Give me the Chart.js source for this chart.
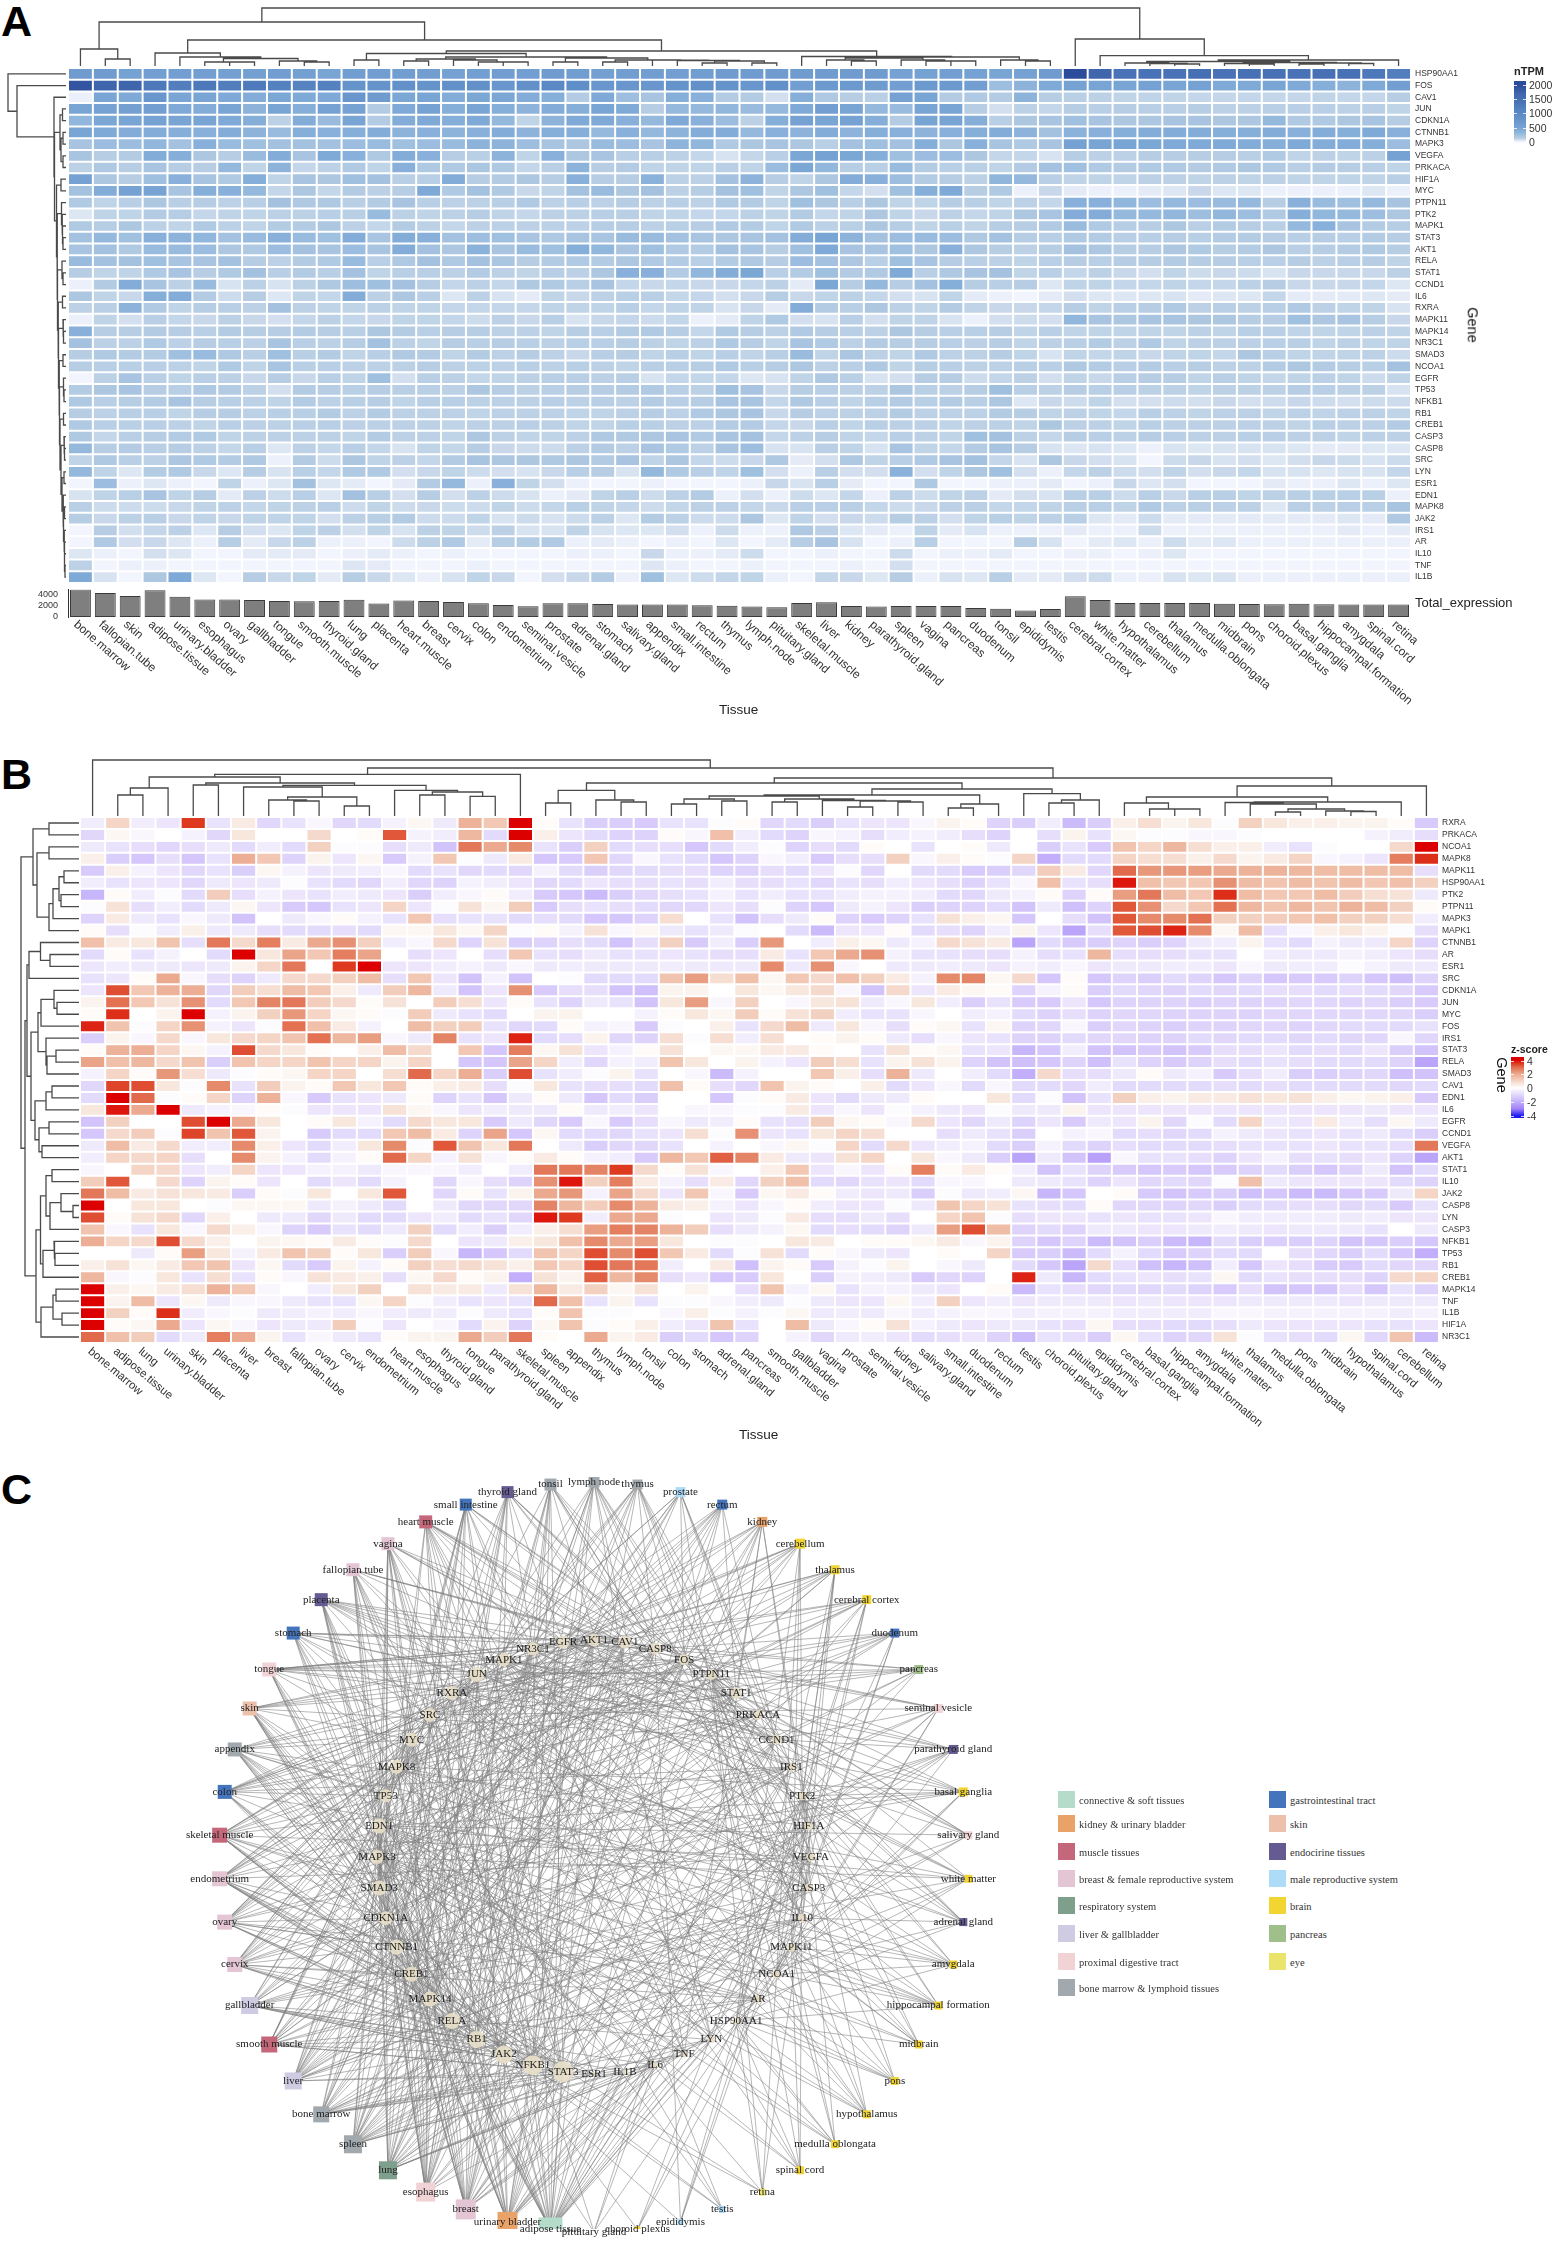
<!DOCTYPE html>
<html>
<head>
<meta charset="utf-8">
<title>Tissue expression</title>
<script src="https://cdn.jsdelivr.net/npm/chart.js@4"></script>
<style>
  body { margin: 0; background: #fff; }
  #page { position: relative; width: 1554px; height: 2246px; overflow: hidden; font-family: "Liberation Sans", Arial, sans-serif; }
  #page canvas { position: absolute; }
  .txt { position: absolute; white-space: nowrap; color: #222; }
  .letter { font-weight: bold; font-size: 43px; color: #000; line-height: 1; }
  .serif { font-family: "Liberation Serif", "Times New Roman", serif; font-size: 10.5px; color: #333; line-height: 1; }
</style>
</head>
<body>
<div id="page"></div>
<script>
// panel A
const tissuesA = ['bone.marrow','fallopian.tube','skin','adipose.tissue','urinary.bladder','esophagus','ovary','gallbladder','tongue','smooth.muscle','thyroid.gland','lung','placenta','heart.muscle','breast','cervix','colon','endometrium','seminal.vesicle','prostate','adrenal.gland','stomach','salivary.gland','appendix','small.intestine','rectum','thymus','lymph.node','pituitary.gland','skeletal.muscle','liver','kidney','parathyroid.gland','spleen','vagina','pancreas','duodenum','tonsil','epididymis','testis','cerebral.cortex','white.matter','hypothalamus','cerebellum','thalamus','medulla.oblongata','midbrain','pons','choroid.plexus','basal.ganglia','hippocampal.formation','amygdala','spinal.cord','retina'];
const genesA = ['HSP90AA1','FOS','CAV1','JUN','CDKN1A','CTNNB1','MAPK3','VEGFA','PRKACA','HIF1A','MYC','PTPN11','PTK2','MAPK1','STAT3','AKT1','RELA','STAT1','CCND1','IL6','RXRA','MAPK11','MAPK14','NR3C1','SMAD3','NCOA1','EGFR','TP53','NFKB1','RB1','CREB1','CASP3','CASP8','SRC','LYN','ESR1','EDN1','MAPK8','JAK2','IRS1','AR','IL10','TNF','IL1B'];
// nTPM / 10, one row per gene
const expressionA = [
[65,65,55,60,60,60,58,58,62,58,50,62,62,62,62,55,60,62,60,65,62,58,62,62,60,62,65,65,65,65,65,65,65,55,55,60,55,50,55,65,200,170,140,140,140,150,140,145,145,140,145,145,130,120],
[190,170,170,130,120,130,120,125,115,110,115,80,80,85,80,85,85,75,85,100,90,75,75,75,80,85,80,75,85,60,70,70,65,60,70,70,60,25,35,45,55,50,50,55,50,55,45,45,50,45,40,35,45,60],
[3,50,45,75,50,50,45,42,48,45,45,75,65,48,50,42,48,48,42,40,15,45,25,20,40,38,15,15,7,40,17,14,13,55,50,15,16,15,35,14,13,12,11,11,11,10,10,10,10,10,11,10,10,14],
[50,55,58,60,45,42,50,35,50,40,55,55,15,45,55,40,50,40,35,42,40,50,45,14,30,30,32,28,30,45,60,50,30,28,50,50,14,7,12,10,14,13,14,13,13,14,12,12,13,13,13,12,13,11],
[32,48,50,55,50,50,45,40,12,42,28,50,15,42,45,40,45,30,11,35,45,45,38,30,45,38,26,12,40,55,50,55,40,15,50,50,40,13,18,20,24,20,18,18,20,20,18,18,30,16,16,18,20,14],
[50,45,42,42,40,38,42,35,28,40,38,40,42,35,38,35,38,42,35,40,40,30,38,30,35,42,42,30,38,35,42,35,40,38,35,38,40,42,35,22,36,38,40,42,42,42,40,40,42,38,42,40,45,38],
[20,26,26,32,22,38,28,24,22,22,22,26,28,24,26,28,35,35,25,20,18,28,26,20,34,32,16,18,20,18,13,22,24,22,40,18,38,20,16,20,55,50,50,48,45,45,45,42,40,45,42,42,40,26],
[20,14,15,42,40,18,14,28,42,20,45,38,17,42,38,14,13,35,11,38,18,20,13,13,12,10,6,10,13,48,55,48,40,24,26,26,18,10,10,6,14,12,12,14,14,14,14,13,16,11,12,11,12,55],
[12,17,14,20,14,14,30,11,35,10,12,16,11,38,17,16,19,17,10,13,35,14,15,11,11,11,13,11,27,48,32,14,13,28,15,13,13,11,15,22,24,16,15,16,16,15,16,18,16,13,15,14,13,11],
[55,18,14,24,38,20,16,40,11,20,18,24,22,13,13,42,14,15,18,14,38,14,14,36,12,12,22,35,14,11,18,42,38,25,15,14,12,33,30,13,11,11,11,12,12,11,12,11,12,11,11,11,11,13],
[22,42,55,52,20,40,38,30,10,18,10,15,12,14,45,16,22,16,9,11,22,28,18,22,12,14,22,24,11,18,24,10,7,24,40,45,14,16,3,9,4,3,3,4,5,9,5,5,3,3,3,3,5,3],
[16,11,13,18,13,14,12,13,22,17,17,13,15,20,13,12,12,13,16,12,13,12,14,12,13,12,16,15,11,24,18,13,18,11,11,14,13,11,12,10,38,38,32,26,30,26,28,30,14,38,28,24,30,20],
[5,11,11,15,14,10,11,11,12,12,13,13,28,12,11,12,14,11,10,12,12,13,13,11,11,10,10,12,11,15,10,11,18,11,9,12,10,11,18,20,42,42,30,30,32,25,32,25,16,40,32,30,25,18],
[16,14,18,12,11,16,12,11,15,15,18,12,10,15,12,10,12,12,12,12,12,14,14,12,13,14,16,15,11,16,12,13,18,14,11,13,11,14,14,16,28,16,14,14,18,13,15,14,13,30,38,20,15,14],
[22,30,24,38,35,32,22,28,38,28,24,42,20,42,38,22,25,24,20,17,20,20,28,28,22,20,18,20,22,42,50,35,22,26,28,26,17,22,14,13,16,15,13,13,14,13,15,15,14,13,14,13,15,14],
[20,22,16,28,28,26,18,17,26,22,20,26,20,42,22,18,36,20,28,24,40,32,20,24,16,15,22,20,14,24,45,20,20,24,18,38,18,14,12,14,22,18,14,14,18,16,14,15,18,13,14,15,17,14],
[28,22,22,24,20,20,22,14,12,15,16,28,13,17,22,17,22,19,14,15,16,15,18,16,15,13,15,17,14,26,22,18,13,24,20,14,13,12,11,13,14,13,14,14,15,14,14,13,13,14,12,13,14,11],
[14,11,11,16,20,14,16,22,13,15,13,22,11,13,13,12,15,12,11,13,12,18,38,38,15,32,42,48,13,15,24,15,16,45,13,17,20,22,11,13,10,12,9,7,11,8,9,8,6,9,9,9,9,12],
[3,15,42,20,12,28,6,12,6,12,17,25,24,22,14,10,12,10,17,16,13,20,10,9,10,9,9,10,12,4,48,14,30,14,22,40,14,13,14,5,11,11,10,10,11,10,10,12,14,9,9,9,10,5],
[18,11,9,40,42,15,8,14,5,11,10,42,12,18,13,5,12,6,4,11,9,12,13,13,10,10,7,9,14,9,11,12,10,7,6,11,4,3,2,4,7,5,5,5,6,4,5,5,10,4,4,4,5,4],
[12,13,35,16,11,14,13,12,22,12,11,11,12,11,11,10,10,10,10,11,11,11,13,10,11,11,6,9,4,42,15,13,18,12,11,15,11,9,9,10,14,11,13,14,16,12,13,12,13,16,12,11,11,6],
[3,11,7,13,10,9,12,9,7,10,12,10,9,11,11,10,8,12,9,13,6,9,10,8,10,3,4,11,16,7,6,13,7,11,11,6,3,7,8,7,32,20,18,20,20,18,18,14,14,24,18,20,14,9],
[38,14,14,15,14,13,15,14,14,15,14,13,18,15,13,14,14,12,12,11,14,13,15,16,14,10,16,14,12,16,14,13,12,18,14,13,13,14,11,13,11,11,11,11,11,12,11,13,13,11,11,11,12,11],
[22,12,12,16,12,14,13,12,20,13,12,14,22,12,11,14,13,14,13,12,13,13,14,12,11,12,17,14,11,20,16,12,15,14,14,13,12,14,11,12,13,15,12,16,11,12,12,12,13,13,11,12,11,11],
[14,16,15,15,24,28,17,13,24,13,15,11,13,16,15,11,15,12,14,12,9,13,14,11,13,11,13,11,13,28,11,19,12,11,16,12,12,14,11,6,11,10,11,9,11,11,10,18,13,11,11,11,12,8],
[14,13,13,13,12,11,16,11,20,13,13,12,12,12,14,12,12,12,13,12,13,12,11,13,13,14,16,13,14,18,12,13,17,11,14,13,12,12,13,13,17,15,13,15,13,14,12,12,15,18,15,14,13,22],
[2,12,20,13,11,13,12,9,14,9,13,11,24,7,13,12,10,11,12,13,13,12,13,6,10,10,10,5,6,11,17,13,6,7,14,14,8,10,12,7,11,9,13,14,14,11,13,11,10,11,12,11,8,11],
[15,18,20,14,13,17,15,12,7,15,14,13,14,13,13,12,18,14,12,13,14,14,15,16,13,12,24,20,9,14,13,12,12,18,13,12,14,24,13,12,14,13,13,12,12,11,12,12,12,14,13,12,12,6],
[17,13,14,15,20,14,13,12,11,15,12,13,14,11,13,13,12,12,12,13,12,13,12,15,13,14,20,20,10,17,13,11,13,15,13,15,13,18,5,9,8,11,7,7,8,7,9,7,8,9,8,7,8,8],
[14,12,13,13,11,14,14,12,13,13,15,12,15,12,12,12,11,12,12,12,11,11,12,14,12,16,18,20,9,14,12,12,12,15,12,12,12,15,14,11,12,11,10,13,12,11,12,12,11,12,11,12,12,11],
[16,13,13,13,12,11,13,12,12,13,13,12,12,12,12,11,12,12,13,12,11,11,13,13,12,12,15,15,10,9,13,11,13,12,12,11,12,12,11,18,12,12,11,13,12,12,12,12,12,11,13,12,12,15],
[17,10,13,14,15,16,11,12,12,12,12,11,15,12,12,11,18,12,11,11,12,17,16,18,20,16,20,22,10,12,14,11,10,13,12,11,24,22,12,10,14,13,12,14,13,12,12,13,13,12,12,11,12,12],
[30,14,15,13,14,12,10,13,5,12,10,13,10,6,11,10,14,9,8,8,12,15,12,20,16,12,20,25,6,6,13,11,6,20,11,10,15,20,14,6,5,6,5,3,6,5,6,6,6,5,4,4,5,5],
[11,17,13,12,18,16,15,17,3,15,8,18,11,12,10,15,20,18,18,17,18,15,20,11,18,10,8,9,17,4,7,17,11,13,16,20,22,10,6,18,9,7,6,2,8,9,6,7,5,7,9,8,6,8],
[30,11,5,15,16,9,5,14,6,13,10,16,16,7,9,11,8,7,6,9,13,14,6,30,16,13,11,24,7,3,13,7,7,36,7,11,18,24,7,3,10,12,8,7,11,7,9,10,6,6,5,6,6,10],
[2,26,3,5,3,2,11,3,5,22,5,4,2,4,15,30,3,38,11,7,3,2,2,3,2,2,2,3,9,6,13,4,2,2,17,2,2,3,3,4,2,3,9,5,7,2,2,2,4,3,3,5,3,5],
[6,11,13,20,11,14,4,12,8,13,5,22,13,7,14,7,12,8,6,3,4,11,13,8,12,15,3,7,3,8,5,10,3,12,8,11,12,4,7,6,13,13,8,13,9,13,13,11,12,13,13,13,13,3],
[13,8,8,8,9,11,12,10,11,12,13,8,11,8,9,8,8,11,8,10,13,11,10,8,10,12,12,10,9,13,13,13,10,8,9,12,13,10,10,11,13,13,11,16,12,13,12,12,5,13,12,13,13,20],
[14,9,12,13,9,11,9,11,11,11,7,12,13,15,8,8,11,6,8,6,8,12,5,15,12,8,8,18,5,11,7,9,8,14,12,7,11,13,11,12,13,5,4,8,4,4,4,4,4,4,4,5,4,17],
[2,14,7,10,12,5,14,7,5,11,12,7,11,6,12,11,8,12,6,6,11,6,5,5,7,3,8,3,3,17,12,5,4,3,11,4,6,3,3,3,4,3,3,8,3,3,3,3,3,3,3,4,3,4],
[2,16,7,9,5,3,14,4,9,12,3,3,2,8,12,16,4,14,15,16,3,4,3,2,3,2,5,2,4,14,20,6,2,3,13,2,2,2,14,6,2,4,5,3,8,4,5,3,3,3,3,3,3,3],
[5,3,2,7,5,2,2,4,4,4,2,3,4,3,2,3,2,2,2,2,3,3,2,9,3,3,4,8,2,2,3,2,2,8,2,3,3,4,2,2,3,3,2,3,5,2,2,2,2,2,2,2,2,2],
[12,2,3,3,2,2,2,2,2,2,2,5,4,2,2,2,3,2,2,2,2,2,2,5,3,2,2,3,2,2,2,3,2,7,2,2,2,2,2,2,2,2,2,2,2,2,2,2,2,2,2,2,2,2],
[45,6,2,18,45,5,2,14,9,11,4,14,9,5,3,6,11,9,2,7,9,15,3,24,5,8,10,11,3,2,10,9,5,14,3,6,5,13,4,4,7,8,3,3,6,5,6,3,3,3,3,3,3,3]
];
const totalExpression = [4900,4250,3750,4750,3600,3100,3100,3000,2850,2800,2850,3050,2400,2950,2850,2650,2450,2150,1900,2450,2450,2300,2200,2200,2200,2100,2000,1850,1750,2500,2600,1950,1850,1950,1950,1950,1600,1450,1150,1400,3700,3000,2500,2500,2500,2500,2350,2300,2250,2350,2250,2200,2200,2200];
const colTreeA = [58,[44,[17,0,[7,0,0]],[26,[13,0,[9,0,[7.5,[4,0,[4,0,0]],[5,0,[4,0,0]]]]],[15,[12.5,[6,0,0],[9,[7,[5,0,0],[6,0,[4,0,[4,0,0]]]],[8,[4,0,0],[6,[4,0,0],[5.8,0,[5.5,0,[5,[3,0,0],[3,0,0]]]]]]]],[9.5,0,[9,[8,[6,0,[5,0,0]],[6,0,[5,0,[5,0,0]]]],[6,0,[5,0,0]]]]]]],[27,0,[10.3,0,[6,[4.5,[3,0,[2.5,0,[2,0,0]]],[3.5,[2.5,0,[2,0,0]],[3,[2,0,0],[2.5,0,0]]]],0]]]];
const rowTailA1 = [3,0,[2.5,[1.5,0,0],[2,0,[1.5,0,[1.5,0,[1,0,0]]]]]];
const rowTailA2 = [5,[2,0,[1.5,0,0]],[4,[2,0,0],rowTailA1]];
const rowTailA3 = [7.5,[3,0,[2.5,0,0]],[7,[3,0,0],[6.5,[2.5,0,[2,0,0]],[6,[2.5,0,0],rowTailA2]]]];
const rowTailA4 = [9.5,[5,0,0],[9,[4.5,0,[4,0,[3.5,0,[3,0,0]]]],[8.5,[4,0,[3,0,0]],[8,[3.5,0,0],rowTailA3]]]];
const rowTreeA = [58,0,[49,0,[12,0,[11.5,[6,[3.5,0,0],[5,[3,0,0],[3,0,0]]],rowTailA4]]]];

// panel B
const tissuesB = ['bone.marrow','adipose.tissue','lung','urinary.bladder','skin','placenta','liver','breast','fallopian.tube','ovary','cervix','endometrium','heart.muscle','esophagus','thyroid.gland','tongue','parathyroid.gland','skeletal.muscle','spleen','appendix','thymus','lymph.node','tonsil','colon','stomach','adrenal.gland','pancreas','smooth.muscle','gallbladder','vagina','prostate','seminal.vesicle','kidney','salivary.gland','small.intestine','duodenum','rectum','testis','choroid.plexus','pituitary.gland','epididymis','cerebral.cortex','basal.ganglia','hippocampal.formation','amygdala','white.matter','thalamus','medulla.oblongata','pons','midbrain','hypothalamus','spinal.cord','cerebellum','retina'];
const genesB = ['RXRA','PRKACA','NCOA1','MAPK8','MAPK11','HSP90AA1','PTK2','PTPN11','MAPK3','MAPK1','CTNNB1','AR','ESR1','SRC','CDKN1A','JUN','MYC','FOS','IRS1','STAT3','RELA','SMAD3','CAV1','EDN1','IL6','EGFR','CCND1','VEGFA','AKT1','STAT1','IL10','JAK2','CASP8','LYN','CASP3','NFKB1','TP53','RB1','CREB1','MAPK14','TNF','IL1B','HIF1A','NR3C1'];
// z-score x 10, one row per gene
const zscoreB = [
[-4,10,-4,-6,35,-7,5,-10,-7,-2,-10,-9,-3,2,-5,18,13,40,1,-7,-12,-12,-13,-7,-7,-1,1,-10,-9,-12,-7,-6,-6,-2,3,1,-11,-12,-4,-17,-12,4,8,3,6,-1,11,6,4,4,3,3,1,-13],
[-10,2,-2,0,-3,-10,6,0,0,9,0,1,32,-3,-4,17,-9,40,4,-6,-9,-11,-11,1,-2,15,-4,-9,-11,-2,-3,-8,-4,-3,-4,-8,-11,0,-8,3,-7,2,-1,-1,-2,-2,-1,0,0,0,0,-3,-4,-8],
[-5,-7,-8,-10,-8,-5,-9,-4,-9,11,-1,-1,-8,-5,-15,28,20,25,-7,-12,11,-9,-8,-8,-14,-9,-4,-1,-11,-8,-9,1,0,-7,0,1,-5,0,-12,-7,-13,14,10,17,8,4,4,-4,-7,-1,0,0,9,40],
[4,-12,-14,-8,-14,-7,19,13,-11,3,-6,2,-13,-3,13,-1,-5,5,-14,-13,13,-10,-2,-7,-9,-14,-11,-2,-4,-13,-8,-8,11,-2,4,1,-1,10,-20,-9,-9,10,8,8,4,9,3,5,10,-2,-3,-6,27,36],
[-13,4,-3,-6,-10,-7,-12,2,-3,-6,-5,-4,-2,-9,-7,-10,-9,-10,-3,-9,-12,-10,-9,-8,-8,-11,-11,-8,-9,-6,-1,-10,0,-9,-9,-13,-12,-10,12,5,-10,30,23,23,22,20,18,18,17,16,16,16,16,-8],
[-4,-7,-6,-6,-10,-5,-6,-5,-1,-7,-9,-10,-4,-10,-11,-3,-4,-6,-10,-9,-6,-8,-8,-7,-8,-4,-8,-8,-7,-10,-7,-8,-4,-6,-8,-11,-7,-2,15,-7,-8,38,15,13,13,24,16,14,16,14,16,13,15,11],
[-18,1,-4,-1,-9,12,-8,-3,-6,-7,-4,-5,-6,-12,-4,-2,1,-4,-13,-14,-17,-12,-10,-8,-7,-3,-7,-4,-7,-7,-4,-3,-3,-4,-9,-10,-5,-3,1,-11,1,22,28,16,13,36,16,13,13,16,12,8,7,-5],
[-1,7,-8,-4,-9,-5,2,-6,-13,-14,-7,-6,10,-6,-1,7,2,12,-13,-8,-7,-8,-9,-10,-10,-6,-8,-1,-11,-14,-5,-3,-6,-12,-11,-11,-9,-15,-5,-16,-11,32,24,9,13,29,17,14,17,14,18,16,11,1],
[-11,5,-5,-7,-2,-5,-15,0,-5,-2,1,-3,-7,13,-8,-7,-7,-9,-8,-9,-14,-14,-11,8,0,-7,-15,-8,-5,1,-11,-13,-11,-7,7,4,2,-14,0,-8,-15,32,25,25,29,11,11,12,13,15,11,11,8,-4],
[1,-8,-1,-4,4,-5,-5,-8,-9,-9,-8,-9,2,2,6,2,10,-1,1,-3,7,-2,2,-5,-7,-5,-1,0,-9,-17,-6,-6,1,-9,-8,-11,-4,3,-6,-22,-8,32,33,37,25,2,16,-8,-2,4,6,3,-1,-8],
[15,5,6,14,-8,28,9,27,5,20,24,11,-4,-2,9,-11,7,-12,-11,-8,-9,-15,-8,11,-13,-4,-12,23,0,-4,4,2,-5,-3,9,7,5,-22,-9,-13,-12,-11,-12,-11,-5,-4,3,-7,-9,-3,-5,-5,10,-11],
[-9,1,-7,-3,0,-9,40,6,21,13,27,21,0,-8,-6,0,-8,13,-7,-8,-5,-7,-7,-6,-7,-8,-8,5,-7,13,20,24,-3,-7,-7,-8,-8,-3,-8,-7,17,-8,-8,-8,-7,-7,0,-4,-5,-5,-3,-4,-6,-8],
[-6,-4,-5,-5,-6,-5,3,10,28,0,35,40,-6,-6,-4,-3,-5,-2,-5,-4,-5,-5,-5,-4,-5,-5,-5,25,-5,24,-2,0,-5,-5,-4,-5,-6,-3,-4,-2,-6,-5,-5,-4,-4,-6,-2,-5,-4,-4,-1,-3,-5,-5],
[-7,-6,1,20,-2,-8,-11,-5,9,9,11,16,-8,13,-6,-15,-3,-15,0,-1,-9,-9,-9,14,22,8,15,2,13,9,15,11,5,-3,25,26,2,9,-14,1,-14,-11,-12,-9,-11,-14,-11,-14,-13,-13,-11,-14,-16,-11],
[-6,33,13,18,19,-10,12,8,16,13,4,-5,12,17,-5,-15,-6,24,-13,-8,-8,-15,-16,3,3,0,6,2,6,9,-2,-15,9,-6,5,2,1,-11,-3,1,-12,-9,-10,-11,-9,-10,-9,-8,-8,-9,-8,-9,-10,-13],
[3,29,13,7,24,-9,13,26,28,12,9,1,7,0,12,8,-6,1,-7,-11,-5,-7,-15,6,22,-2,11,0,-2,6,7,-5,-2,6,-4,-12,-7,-13,-13,-6,-14,-11,-11,-11,-12,-11,-11,-11,-10,-10,-11,-10,-12,-13],
[1,36,0,3,40,-3,3,11,23,10,2,1,-1,12,-5,-7,-9,0,3,3,0,0,-3,1,6,2,12,1,7,11,-4,-7,-7,-2,0,-4,-3,-9,-11,-8,-11,-10,-10,-11,-11,-11,-11,-10,-10,-10,-10,-10,-10,-12],
[37,14,-1,10,24,-3,-6,-1,29,15,5,-3,0,16,11,12,-7,-10,-9,1,-3,-2,-13,-1,0,4,-7,9,16,-5,6,-2,-8,1,2,-7,2,-11,-10,-2,-12,-10,-11,-12,-11,-11,-10,-10,-11,-10,-9,-9,-9,-7],
[-12,3,-2,9,-2,6,9,10,14,29,17,22,-2,-5,26,-7,-6,37,-9,-8,3,-10,-11,8,-1,8,-4,8,0,1,3,1,-5,-8,-2,-6,-7,-11,-11,-9,-10,-10,-11,-11,-9,-10,-9,-9,-10,-9,-10,-10,-2,-10],
[1,18,19,10,2,-3,33,9,6,1,0,4,16,9,0,13,-14,27,2,7,-6,-3,1,7,0,2,2,5,5,1,0,-7,7,1,2,-7,-6,-18,-14,-4,-15,-15,-13,-15,-13,-8,-8,-6,-9,-8,-9,-6,-12,-15],
[21,15,17,9,14,-12,14,10,10,14,10,10,3,10,0,-14,-14,21,10,-4,-10,-3,-4,14,6,0,3,-3,-6,12,8,-7,3,7,3,-11,-15,-16,-14,-11,-16,-7,-11,-13,-11,-8,-9,-7,-8,-9,-9,-9,-11,-22],
[-3,10,1,23,8,-5,-1,1,2,10,10,0,8,30,10,19,-12,33,-7,-4,-1,3,-7,0,-2,-17,-3,0,0,13,4,-8,18,-5,0,-4,-9,-20,9,-8,-8,-5,1,-5,-3,-13,-8,-4,-12,-12,-11,-10,-16,-15],
[-10,34,33,6,-1,25,-7,12,3,1,13,6,13,1,4,5,-8,-1,6,-7,-8,-8,-9,15,1,-8,-10,14,3,1,0,4,-9,-6,-2,-9,-2,-9,-9,-10,-4,-9,-9,-9,-9,-8,-9,-8,-9,-9,-9,-9,-10,-9],
[-9,40,30,-1,1,10,-11,18,-2,-13,-7,-6,-5,1,-11,-7,-14,-5,1,-5,-14,-9,-12,0,0,-14,-1,1,5,-6,-9,-5,-5,1,0,0,6,-9,-1,-15,-7,11,4,3,5,5,7,6,7,4,2,3,4,-13],
[6,38,20,40,-5,-3,-2,1,-1,-6,-6,-6,7,2,-2,-6,-4,-5,-5,1,-5,-4,-6,0,-2,-2,-1,-1,5,-6,-2,-6,-1,-3,-5,-6,-1,-5,-5,3,-6,-6,-6,-6,-6,-6,-6,-6,-6,-6,-6,-5,-6,-6],
[-15,11,0,0,33,40,20,6,0,1,6,-3,-9,9,6,6,-13,-5,-10,-13,-2,-13,-8,-2,-5,-4,1,-7,-8,12,2,1,-2,9,-6,-10,-5,-11,-6,-13,-5,-6,3,-10,-1,-9,10,-5,-6,5,-4,-8,2,-5],
[-14,9,12,-1,34,14,32,3,0,-13,-9,-9,13,16,5,-11,21,-14,2,-9,-9,-10,-7,-6,8,-1,24,-6,-7,6,10,8,0,0,-8,-5,-7,-12,0,-3,-2,-9,-8,-10,-9,-3,-5,-6,-7,-6,-7,-5,-9,-12],
[-5,16,5,9,-4,-4,25,4,-6,-9,-4,6,25,-1,32,14,6,28,0,-5,-12,-10,-10,-7,0,-3,0,-2,2,-1,10,-9,9,-6,-4,-3,-9,-12,-3,-9,-11,-8,-9,-9,-9,-8,-7,-7,-7,-6,-7,-7,-8,28],
[-4,10,9,10,-8,0,25,3,-3,-9,-3,1,30,10,-3,7,-2,1,5,1,-3,-4,-13,17,13,31,26,5,-5,-6,7,10,0,6,-2,-5,-12,-22,-5,-15,-23,-2,-7,-7,-8,-11,-6,-3,-8,-7,-8,-6,-11,-22],
[-2,0,10,9,-6,-4,10,-6,-6,-3,-3,-5,-2,-2,-2,-4,0,-4,28,28,26,35,9,1,7,-2,0,4,13,-6,-2,-6,1,27,1,5,1,-4,-15,-7,-11,-13,-14,-13,-14,-13,-11,-9,-12,-14,-11,-5,-15,-9],
[12,32,0,9,-11,3,1,-6,0,-9,-6,-9,-3,0,-10,-2,-8,-11,24,38,11,27,5,-3,-8,5,-10,11,15,-9,-10,-7,-6,-9,-2,-2,0,-5,-5,-7,-11,-6,-10,-9,-10,-1,15,-5,-6,-6,-6,-6,-9,-11],
[28,16,5,7,6,5,-12,1,-1,6,0,6,32,0,-10,1,-7,3,20,23,-3,21,9,-6,13,-2,-13,2,5,1,-4,-6,-5,-12,-1,-5,-4,2,-18,-14,0,1,-13,-15,-13,-12,-16,-14,-17,-17,-14,-13,-5,10],
[40,0,6,6,0,-1,2,2,2,-5,-3,-5,-9,0,-5,-10,-10,-10,26,17,12,25,18,5,4,-3,-6,-2,1,-4,-6,-6,-1,-5,14,10,7,-7,-8,-9,1,-10,-10,-11,-10,-12,-9,-9,-8,-8,-10,-9,-13,-7],
[33,1,7,9,-10,4,0,-5,-5,-10,-5,-9,-9,-6,-4,-9,-7,-10,38,35,-4,20,20,-1,0,-6,-5,-1,5,-8,-8,-5,-8,0,10,14,-1,-8,-6,-6,-7,-6,-7,-7,-6,-2,-4,-4,-4,-4,-5,-4,-6,-6],
[14,-2,-7,6,-2,9,4,-2,-11,-13,-7,-9,-5,11,-9,-4,-12,-4,4,8,22,27,26,18,12,-8,-5,-3,2,-9,-8,-9,-11,-5,22,33,16,-11,-9,-11,-5,-5,-6,-6,-5,-4,-5,-6,-5,-5,-5,-7,0,-5],
[19,10,9,33,9,4,0,3,2,1,5,1,-1,9,0,-6,-5,4,6,15,25,20,22,6,0,-1,-1,0,6,5,0,1,1,2,5,-2,3,-11,-14,-11,-17,-15,-12,-17,-18,-9,-12,-12,-12,-11,-15,-14,-12,-14],
[0,0,-5,1,22,6,-3,5,14,11,1,6,-12,12,-2,-18,-14,-9,14,10,33,25,33,13,5,-9,-1,7,-9,1,-2,-5,-6,0,1,0,10,-13,-12,-17,-9,-3,-9,-13,-11,-9,-9,0,-8,-10,-12,-9,-14,-20],
[4,7,2,5,13,14,-6,2,-9,-13,3,-3,1,11,8,9,7,4,13,10,33,28,28,-4,0,5,-16,3,1,-13,-3,-1,3,0,-2,-5,0,-9,-14,-22,9,-8,-16,-18,-16,-4,-14,-6,-8,-13,-13,-9,-10,-10],
[17,-2,-1,6,-7,8,-7,1,-2,7,5,4,-8,2,9,1,3,-20,7,3,31,17,25,-8,-6,-14,-13,6,0,-12,-3,-4,-5,-13,-10,-11,0,37,-5,-18,-9,-7,-6,-8,-7,2,-9,-7,-8,-8,-8,-11,9,10],
[40,4,2,5,8,18,13,-2,0,-4,6,11,0,7,5,5,-5,7,17,5,11,2,7,0,3,0,-8,14,-3,2,-7,-3,-3,-5,-6,0,1,-17,-7,-8,-10,-9,-10,-9,-11,-13,-8,-15,-14,-14,-8,-14,-7,-11],
[40,3,16,-6,2,-5,-2,-2,-5,-7,-7,2,10,-1,-4,-7,-6,-7,30,15,-7,3,-7,-1,-1,-2,-4,-5,-1,-5,-6,-6,2,-4,11,-6,-4,-6,-5,-5,-5,-6,-5,-6,-6,-6,-5,-5,-5,-5,-6,-5,-5,-5],
[40,11,1,36,-4,-2,-1,-5,-4,-3,-4,-2,-4,-5,-4,-1,-5,-7,1,14,-1,-1,0,-2,4,-1,-3,-1,2,-5,-4,-5,-2,-4,-3,-2,-2,-4,-3,-3,-3,-4,-4,-4,-4,-2,-2,-3,-3,-3,-3,-3,-4,-3],
[40,1,2,20,-6,2,-2,-6,-5,-5,12,-1,-6,0,-2,-9,3,-11,2,14,-1,1,4,-4,-6,14,-7,0,16,-5,-2,1,7,-3,-5,-6,-5,-5,-7,-8,2,-8,-8,-9,-9,-8,-5,-6,-6,-6,-6,-7,-7,-6],
[30,15,12,-9,-5,27,20,3,-7,-2,-5,-7,1,3,3,20,12,28,1,0,20,3,5,-12,-9,-14,-11,0,-3,-10,-5,-4,-6,-9,-8,-6,-11,-17,-7,-8,-12,2,-7,-11,-10,7,-1,-7,-8,-9,2,-10,14,-17]
];
const colTreeB = [56,0,[48,[41.7,[39,[28,[21,0,0],0],[33,[31,0,0],[30.7,[29,0,[19,[16,0,[15,0,0]],[10,0,0]]],[25.7,0,[24,[21,0,0],[19.6,0,0]]]]]],0],[38,[33,[25.7,[13,0,0],[16,0,[14,0,0]]],[27,[21,[20,[17,[12,0,0],[15,0,0]],[17,[14,0,0],[15.5,0,[15,[9,0,0],[14,0,0]]]]],[12,[8,0,0],0]],[22.3,0,[16,[13,0,0],0]]]],[30,[19,[13,0,[7,0,[7,0,0]]],[14,[13.5,0,[12,0,[7,[4,0,0],[5,0,[4.5,0,0]]]]],0]],0]]]];
const rowTreeB = [58,[46,[30,0,0],[42,[30,0,0],[30,[26,[20,[15,0,0],[18,0,0]],0],0]]],[54,[52,[50,[38.5,0,[29,0,0]],0],[48,[41,[38,[25,0,[22,0,0]],0],[33,0,[32,[23,0,0],0]]],[44,[33,[27,0,0],0],[40,[30,0,0],[37,0,0]]]]],[43,[38.5,[33,[27,0,0],[29,[18,0,[6,0,0]],0]],[36,[25,0,[24,0,0]],0]],[38,[26,[23,0,0],[17,0,0]],0]]]];

// panel C, clockwise from the top of each ring
const ringTissues = ['lymph node','thymus','prostate','rectum','kidney','cerebellum','thalamus','cerebral cortex','duodenum','pancreas','seminal vesicle','parathyroid gland','basal ganglia','salivary gland','white matter','adrenal gland','amygdala','hippocampal formation','midbrain','pons','hypothalamus','medulla oblongata','spinal cord','retina','testis','epididymis','choroid plexus','pituitary gland','adipose tissue','urinary bladder','breast','esophagus','lung','spleen','bone marrow','liver','smooth muscle','gallbladder','cervix','ovary','endometrium','skeletal muscle','colon','appendix','skin','tongue','stomach','placenta','fallopian tube','vagina','heart muscle','small intestine','thyroid gland','tonsil'];
const ringTissueGroups = ['bone','bone','male','gi','kidney','brain','brain','brain','gi','pancreas','proximal','endocrine','brain','proximal','brain','endocrine','brain','brain','brain','brain','brain','brain','brain','eye','male','male','brain','endocrine','connective','kidney','breast','proximal','respiratory','bone','bone','liver','muscle','liver','breast','breast','breast','muscle','gi','bone','skin','proximal','gi','endocrine','breast','breast','muscle','gi','endocrine','bone'];
const ringTissueSizes = [11,10,10,10,10,10,9,9,9,9,9,9,9,8,8,8,8,8,8,8,8,8,8,7,7,6,6,6,24,20,20,19,18,18,16,17,16,17,15,15,15,15,14,14,14,14,13,13,13,13,13,12,12,12];
const ringGenes = ['AKT1','CAV1','CASP8','FOS','PTPN11','STAT1','PRKACA','CCND1','IRS1','PTK2','HIF1A','VEGFA','CASP3','IL10','MAPK11','NCOA1','AR','HSP90AA1','LYN','TNF','IL6','IL1B','ESR1','STAT3','NFKB1','JAK2','RB1','RELA','MAPK14','CREB1','CTNNB1','CDKN1A','SMAD3','MAPK3','EDN1','TP53','MAPK8','MYC','SRC','RXRA','JUN','MAPK1','NR3C1','EGFR'];
const ringGeneSizes = [6.5,6.5,6,5.5,5.5,5.5,5,5,4.5,4.5,4.5,4.5,4.5,4.5,4.5,4,4,3.5,3.5,3,3,2.5,2,10.5,10,9,8.5,8,7.5,7.5,7.5,7,7.5,7,7.5,6.5,7,7,7,7,7.5,6.5,6.5,6.5];
const groupKeys = ['connective','kidney','muscle','breast','respiratory','liver','proximal','bone','gi','skin','endocrine','male','brain','pancreas','eye'];
const groupLabels = ['connective & soft tissues','kidney & urinary bladder','muscle tissues','breast & female reproductive system','respiratory system','liver & gallbladder','proximal digestive tract','bone marrow & lymphoid tissues','gastrointestinal tract','skin','endocirine tissues','male reproductive system','brain','pancreas','eye'];
const groupColors = ['#b5dccb','#e9a268','#c4677a','#e3c5d3','#7f9f8d','#cfcbe3','#f2d3d5','#a1a9ae','#4474bb','#ecc0aa','#665a92','#addcf8','#f2d531','#9fbf8b','#eae36c'];

const blueStops = [[0,'#f3f5fe'],[2,'#f3f5fe'],[5,'#dde6f3'],[9,'#c8d8ea'],[13,'#b8cfe5'],[20,'#a8c4e0'],[28,'#98bbde'],[38,'#88b0da'],[50,'#78a5d4'],[65,'#6f9bcf'],[90,'#5f8fc8'],[130,'#4d78ba'],[170,'#3f65ad'],[200,'#2b4b9b']];
const zStops = [[-40,'#1a1af0'],[-30,'#a080fa'],[-20,'#c2aefb'],[-15,'#d2c3fb'],[-10,'#e0d7fb'],[-5,'#efe9fc'],[0,'#ffffff'],[5,'#f9ebe3'],[10,'#f4d5c6'],[15,'#f0c0aa'],[20,'#ebaa90'],[25,'#e58b6c'],[30,'#e26a4c'],[35,'#dd3a20'],[40,'#dd0000']];
const SANS = '"Liberation Sans", Arial, sans-serif';
const SERIF = '"Liberation Serif", "Times New Roman", serif';

const page = document.getElementById('page');

function colorFrom(stops, v) {
    if (v <= stops[0][0]) return stops[0][1];
    for (let i = 1; i < stops.length; i++) {
        if (v <= stops[i][0]) {
            const t = (v - stops[i - 1][0]) / (stops[i][0] - stops[i - 1][0]);
            const a = parseInt(stops[i - 1][1].slice(1), 16);
            const b = parseInt(stops[i][1].slice(1), 16);
            const mix = s => Math.round(((a >> s) & 255) + (((b >> s) & 255) - ((a >> s) & 255)) * t);
            return `rgb(${mix(16)},${mix(8)},${mix(0)})`;
        }
    }
    return stops[stops.length - 1][1];
}

function addCanvas(x, y, w, h) {
    const canvas = document.createElement('canvas');
    canvas.width = w;
    canvas.height = h;
    canvas.style.left = x + 'px';
    canvas.style.top = y + 'px';
    canvas.style.width = w + 'px';
    canvas.style.height = h + 'px';
    page.appendChild(canvas);
    return canvas;
}

function addText(text, x, y, css) {
    const el = document.createElement('div');
    el.className = 'txt';
    el.textContent = text;
    el.style.left = x + 'px';
    el.style.top = y + 'px';
    el.style.cssText += css || '';
    page.appendChild(el);
    return el;
}

const baseOptions = {
    responsive: false,
    animation: false,
    events: [],
    plugins: { legend: { display: false }, tooltip: { enabled: false } }
};

// heat map: one stacked bar per tissue, one dataset per gene, through the bar chart scales
function heatmap(box, tissues, genes, rows, stops, text) {
    const canvas = addCanvas(0, box.top, 1554, box.bottom - box.top + box.below);
    const labelsPlugin = {
        id: 'heatLabels',
        afterDraw(chart) {
            const ctx = chart.ctx;
            const xs = chart.scales.x, ys = chart.scales.y;
            ctx.save();
            ctx.fillStyle = '#333';
            ctx.textBaseline = 'middle';
            ctx.textAlign = 'left';
            ctx.font = `${text.geneSize}px ${SANS}`;
            genes.forEach((g, i) => ctx.fillText(g, box.right + text.geneGap, ys.getPixelForValue(i + 0.5)));
            ctx.font = `${text.tissueSize}px ${SANS}`;
            tissues.forEach((t, i) => {
                ctx.save();
                ctx.translate(xs.getPixelForValue(i) + text.tissueDx, box.bottom - box.top + text.tissueDy);
                ctx.rotate(text.tissueAngle * Math.PI / 180);
                ctx.fillText(t, 0, 0);
                ctx.restore();
            });
            ctx.restore();
        }
    };
    new Chart(canvas.getContext('2d'), {
        type: 'bar',
        data: {
            labels: tissues,
            datasets: genes.map((g, i) => ({
                label: g,
                data: tissues.map(() => 1),
                backgroundColor: rows[i].map(v => colorFrom(stops, v)),
                borderColor: '#ffffff',
                borderWidth: 1,
                borderSkipped: false,
                inflateAmount: 0,
                categoryPercentage: 1,
                barPercentage: 1
            }))
        },
        options: {
            ...baseOptions,
            layout: { padding: { left: box.left, right: 1554 - box.right, top: 0, bottom: box.below } },
            scales: {
                x: { stacked: true, display: false },
                y: { stacked: true, display: false, reverse: true, min: 0, max: genes.length }
            }
        },
        plugins: [labelsPlugin]
    });
}

// nested [height, left, right] merges, 0 is a leaf
function treeSegments(tree, horizontal) {
    const points = [];
    let leaf = 0;
    const put = (pos, h) => points.push(horizontal ? { x: h, y: pos } : { x: pos, y: h });
    const walk = node => {
        if (node === 0) return { pos: 0.5 + leaf++, h: 0 };
        const a = walk(node[1]);
        const b = walk(node[2]);
        put(a.pos, a.h);
        put(a.pos, node[0]);
        put(b.pos, node[0]);
        put(b.pos, b.h);
        points.push({ x: NaN, y: NaN });
        return { pos: (a.pos + b.pos) / 2, h: node[0] };
    };
    walk(tree);
    return points;
}

function dendrogram(x, y, w, h, tree, horizontal, count) {
    const canvas = addCanvas(x, y, w, h);
    const hAxis = { type: 'linear', display: false, min: 0, max: horizontal ? w : h };
    const posAxis = { type: 'linear', display: false, min: 0, max: count };
    new Chart(canvas.getContext('2d'), {
        type: 'scatter',
        data: {
            datasets: [{
                data: treeSegments(tree, horizontal),
                showLine: true,
                spanGaps: false,
                pointRadius: 0,
                borderColor: '#4a4a4a',
                borderWidth: 1.3,
                clip: false
            }]
        },
        options: {
            ...baseOptions,
            scales: horizontal
                ? { x: { ...hAxis, reverse: true }, y: { ...posAxis, reverse: true } }
                : { x: posAxis, y: hAxis }
        }
    });
}

function colorbar(x, top, bottom, width, stops, valueAtY, ticks, labelX) {
    const el = document.createElement('div');
    const parts = [];
    for (let i = 0; i <= 40; i++) {
        const y = top + (bottom - top) * i / 40;
        parts.push(`${colorFrom(stops, valueAtY(y))} ${(i * 2.5).toFixed(1)}%`);
    }
    el.style.cssText = `position:absolute;left:${x}px;top:${top}px;width:${width}px;height:${bottom - top}px;background:linear-gradient(to bottom,${parts.join(',')})`;
    page.appendChild(el);
    ticks.forEach(t => {
        addText(t.label, labelX, t.y - 7, 'font-size:10.5px;line-height:14px;color:#333;');
        [x, x + width - 3].forEach(tx => {
            const mark = document.createElement('div');
            mark.style.cssText = `position:absolute;left:${tx}px;top:${t.y}px;width:3px;height:1px;background:rgba(255,255,255,.8)`;
            page.appendChild(mark);
        });
    });
}

// ---- panel A
dendrogram(68, 0, 1343, 66, colTreeA, false, 54);
dendrogram(0, 68, 66, 515, rowTreeA, true, 44);
heatmap({ top: 68, bottom: 583, below: 140, left: 68, right: 1411 }, tissuesA, genesA, expressionA, blueStops, {
    geneSize: 8.5, geneGap: 4, tissueSize: 12, tissueDx: -5, tissueDy: 40, tissueAngle: 41
});
new Chart(addCanvas(10, 582, 1401, 44).getContext('2d'), {
    type: 'bar',
    data: {
        labels: tissuesA,
        datasets: [{
            label: 'Total_expression',
            data: totalExpression,
            backgroundColor: '#7f7f7f',
            borderColor: '#3a3a3a',
            borderWidth: 1,
            borderSkipped: false,
            categoryPercentage: 1,
            barPercentage: 0.84
        }]
    },
    options: {
        ...baseOptions,
        layout: { padding: { top: 5, bottom: 9 } },
        scales: {
            x: { display: false },
            y: {
                min: 0,
                max: 4900,
                afterFit: s => { s.width = 58; },
                afterBuildTicks: s => { s.ticks = [0, 2000, 4000].map(value => ({ value })); },
                grid: { display: false },
                border: { display: true, color: '#333' },
                ticks: { font: { size: 9, family: SANS }, color: '#333', padding: 2, callback: v => String(v) }
            }
        }
    }
});
addText('Total_expression', 1415, 595, 'font-size:13px;line-height:16px;color:#222;');
addText('Tissue', 719, 702, 'font-size:13.5px;line-height:16px;color:#222;');
addText('Gene', 1455, 317, 'font-size:14.5px;line-height:16px;color:#111;transform:rotate(90deg);transform-origin:center;');
addText('nTPM', 1514, 64, 'font-size:11px;font-weight:bold;line-height:14px;color:#222;');
colorbar(1514, 81, 143, 12, blueStops, y => (142 - y) / 14.25 * 50, [
    { label: '2000', y: 85 }, { label: '1500', y: 99 }, { label: '1000', y: 113 }, { label: '500', y: 128 }, { label: '0', y: 142 }
], 1529);

// ---- panel B
dendrogram(80, 756, 1359, 60, colTreeB, false, 54);
dendrogram(0, 817, 79, 526, rowTreeB, true, 44);
heatmap({ top: 817, bottom: 1343, below: 90, left: 80, right: 1439 }, tissuesB, genesB, zscoreB, zStops, {
    geneSize: 8.5, geneGap: 3, tissueSize: 11.5, tissueDx: -3, tissueDy: 7, tissueAngle: 40
});
addText('Tissue', 739, 1427, 'font-size:13.5px;line-height:16px;color:#222;');
addText('Gene', 1484, 1067, 'font-size:14.5px;line-height:16px;color:#111;transform:rotate(90deg);transform-origin:center;');
addText('z-score', 1511, 1043, 'font-size:10.5px;font-weight:bold;line-height:13px;color:#222;');
colorbar(1511, 1057, 1118, 13, zStops, y => (1088 - y) / 14 * 20, [
    { label: '4', y: 1061 }, { label: '2', y: 1074 }, { label: '0', y: 1088 }, { label: '-2', y: 1102 }, { label: '-4', y: 1116 }
], 1527);

// ---- panel C, edges are the gene and tissue pairs with a positive z-score in panel B
const ringX = (i, n, r) => 594 + r * Math.sin(i / n * 2 * Math.PI);
const ringY = (i, n, r) => 1857 - r * Math.cos(i / n * 2 * Math.PI);
const tissueNodes = ringTissues.map((t, i) => ({ x: ringX(i, ringTissues.length, 375), y: ringY(i, ringTissues.length, 375) }));
const geneNodes = ringGenes.map((g, i) => ({ x: ringX(i, ringGenes.length, 217), y: ringY(i, ringGenes.length, 217) }));
const edgePoints = [];
genesB.forEach((g, r) => {
    const gi = ringGenes.indexOf(g);
    tissuesB.forEach((t, c) => {
        if (zscoreB[r][c] > 0) {
            const ti = ringTissues.indexOf(t.replace('.', ' '));
            edgePoints.push(geneNodes[gi], tissueNodes[ti], { x: NaN, y: NaN });
        }
    });
});
const networkLabels = {
    id: 'networkLabels',
    afterDatasetsDraw(chart) {
        const ctx = chart.ctx;
        const xs = chart.scales.x, ys = chart.scales.y;
        ctx.save();
        ctx.fillStyle = '#222';
        ctx.textAlign = 'center';
        ctx.textBaseline = 'middle';
        ctx.font = `11px ${SERIF}`;
        ringTissues.forEach((t, i) => ctx.fillText(t, xs.getPixelForValue(tissueNodes[i].x), ys.getPixelForValue(tissueNodes[i].y)));
        ringGenes.forEach((g, i) => ctx.fillText(g, xs.getPixelForValue(geneNodes[i].x), ys.getPixelForValue(geneNodes[i].y)));
        ctx.restore();
    }
};
const network = new Chart(addCanvas(100, 1460, 960, 786).getContext('2d'), {
    type: 'scatter',
    data: {
        datasets: [
            {
                data: edgePoints,
                showLine: true,
                spanGaps: false,
                pointRadius: 0,
                borderColor: 'rgba(125,125,125,0.62)',
                borderWidth: 0.9,
                order: 3
            },
            {
                data: tissueNodes,
                pointStyle: 'rect',
                pointRadius: ringTissueSizes.map(s => s / 1.414),
                pointBackgroundColor: ringTissueGroups.map(k => groupColors[groupKeys.indexOf(k)]),
                pointBorderWidth: 0,
                order: 2
            },
            {
                data: geneNodes,
                pointStyle: 'circle',
                pointRadius: ringGeneSizes,
                pointBackgroundColor: 'rgba(232,223,200,0.92)',
                pointBorderWidth: 0,
                order: 1
            }
        ]
    },
    options: {
        ...baseOptions,
        scales: {
            x: { type: 'linear', display: false, min: 100, max: 1060 },
            y: { type: 'linear', display: false, min: 1460, max: 2246, reverse: true }
        }
    },
    plugins: [networkLabels]
});
// the points inset the chart area a little, so pin the scales back to page pixels
const area = network.chartArea;
network.options.scales.x.min = 100 + area.left;
network.options.scales.x.max = 100 + area.right;
network.options.scales.y.min = 1460 + area.top;
network.options.scales.y.max = 1460 + area.bottom;
network.update();

// legend of panel C
const legendRows = [1800, 1824, 1852, 1879, 1906, 1934, 1962, 1988];
groupLabels.forEach((label, i) => {
    const col = i < 8 ? 0 : 1;
    const y = legendRows[col ? i - 8 : i];
    const x = col ? 1269 : 1058;
    const swatch = document.createElement('div');
    swatch.style.cssText = `position:absolute;left:${x}px;top:${y - 9}px;width:17px;height:17px;background:${groupColors[i]}`;
    page.appendChild(swatch);
    const el = addText(label, x + 21, y - 4);
    el.classList.add('serif');
});

addText('A', 1, 0, '').classList.add('letter');
addText('B', 1, 753, '').classList.add('letter');
addText('C', 1, 1468, '').classList.add('letter');
</script>
</body>
</html>
